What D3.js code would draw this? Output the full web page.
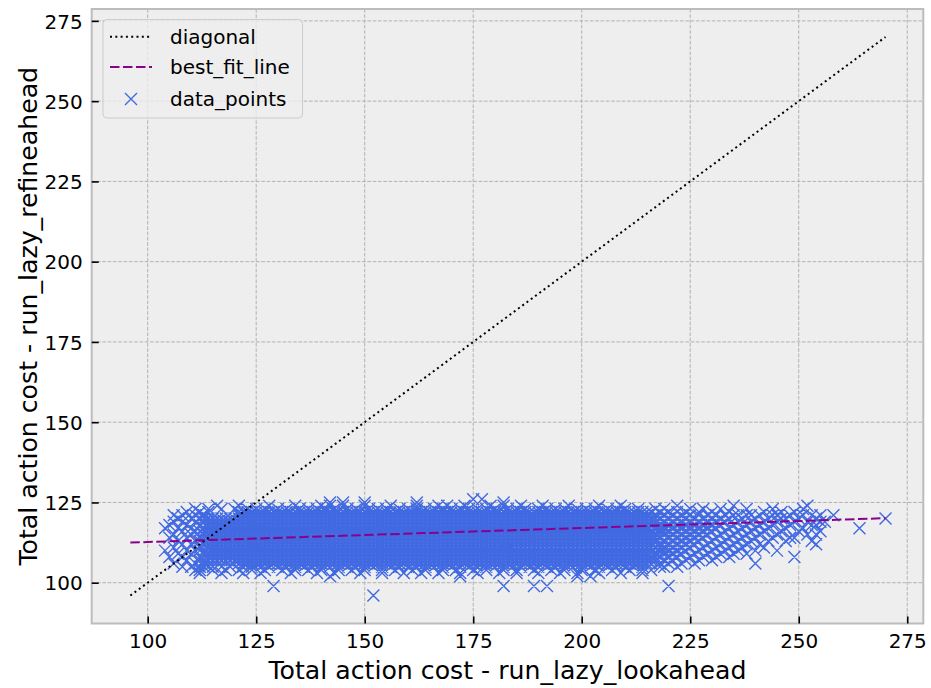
<!DOCTYPE html>
<html>
<head>
<meta charset="utf-8">
<script src="https://cdn.jsdelivr.net/npm/d3@7/dist/d3.min.js"></script>
<style>
  html, body { margin: 0; padding: 0; background: #ffffff; }
  svg { display: block; }
  text { font-family: "DejaVu Sans", sans-serif; fill: #000; }
</style>
</head>
<body>
<svg id="chart" width="931" height="688"></svg>
<script>
// ---------------- data ----------------
const xTicks = [100, 125, 150, 175, 200, 225, 250, 275];
const yTicks = [100, 125, 150, 175, 200, 225, 250, 275];
const xLabel = "Total action cost - run_lazy_lookahead";
const yLabel = "Total action cost - run_lazy_refineahead";
const legendLabels = ["diagonal", "best_fit_line", "data_points"];

const diagonalX = [96, 270];
const diagonalY = [96, 270];
const fitX = [96, 270];
const fitY = [112.5, 120.1];

// dense core of the cloud: at each integer x in [x0,x1], points at every integer y in [lo,hi]
const coreX0 = [115, 121];
const coreX1 = [120, 215];
const coreLo = [107, 106];
const coreHi = [120, 122];

// ragged edges of the core: y value and the x values that reach it
const edgeY = [123, 124, 125, 126, 105, 104, 103, 102];
const edgeX = [
  [114,117,120,123,125,127,130,132,135,137,139,141,143,146,148,151,153,155,158,160,162,164,166,168,170,172,174,176,178,180,183,185,187,190,192,194,196,199,201,203,206,208,210,213],
  [116,121,128,134,140,142,145,150,156,162,167,169,173,179,182,186,191,197,204,209],
  [142,145,150,162,182],
  [175,177],
  [113,115,117,119,122,124,126,128,130,132,134,136,138,140,142,144,146,148,150,152,154,156,158,160,162,164,166,168,170,172,174,176,178,180,182,184,186,188,190,192,194,196,198,200,202,204,206,208,210,212,214],
  [112,115,118,121,124,127,131,134,137,140,144,147,150,154,157,161,164,168,171,175,178,182,185,189,193,196,200,203,207,211,214],
  [112,117,122,126,133,139,143,149,154,159,163,167,172,176,181,185,190,195,199,204,209,214],
  [142,172,199,202]
];

// sparse tails: x value and the y values seen in that column
const tailX = [104,105,106,107,108,109,110,111,112,113,114,
  216,217,218,219,220,221,222,223,224,225,226,227,228,229,230,231,232,233,234,235,236,237,238,239,240,
  241,242,243,244,245,246,247,248,249,250,251,252,253,254,255,256,258,264,270];
const tailY = [
  [110,117],
  [108,114,118],
  [106,111,115,119,121],
  [109,113,117,120],
  [105,108,112,116,119,121],
  [107,110,114,118,122],
  [105,109,112,115,117,120],
  [104,106,110,113,116,119,121,123],
  [105,107,108,110,111,113,114,116,118,120,122],
  [106,107,109,110,112,113,115,116,117,119,120,121],
  [105,107,108,109,111,112,114,115,117,118,119,120,122],
  [104,106,107,108,110,111,112,114,115,116,118,119,120,122],
  [107,108,109,111,113,114,115,117,119,120,121,123],
  [105,106,108,110,111,112,114,116,117,118,120,122],
  [105,107,109,110,111,113,115,116,117,119,121,123],
  [106,108,110,112,114,116,118,120,122],
  [107,109,111,113,115,117,119,121],
  [105,108,110,112,114,116,118,120,122,124],
  [106,109,111,113,115,117,119,121],
  [107,110,112,114,116,118,120,122],
  [108,111,113,115,117,119,121,123],
  [106,109,112,114,116,118,120],
  [107,110,113,115,117,119,121,122],
  [108,111,114,116,118,120,123],
  [109,112,115,117,119,121],
  [107,110,113,116,118,120,122],
  [108,111,114,117,119,121],
  [109,112,115,118,120,123],
  [110,113,116,119,121],
  [108,111,114,117,120,122],
  [109,112,115,118,121,124],
  [110,113,116,119,121],
  [111,114,117,120],
  [109,112,115,118,121,123],
  [113,116,119,121],
  [106,110,114,117,120],
  [112,115,118,121],
  [111,116,119,122],
  [113,117,120],
  [114,118,121,123],
  [110,115,119,121],
  [116,120,122],
  [113,117,120],
  [114,118,121],
  [108,114,119,122],
  [116,120],
  [117,121,123],
  [115,119,124],
  [113,118,121],
  [112,115,118,120],
  [116,119,121],
  [119],
  [121],
  [117],
  [120]
];

// isolated low outliers
const outlierX = [129, 152, 182, 189, 192, 220, 142, 172, 199, 202];
const outlierY = [99, 96, 99, 99, 99, 99, 102, 102, 102, 102];

// ---------------- build point table ----------------
const points = [];
coreX0.forEach((x0, i) => {
  for (let x = x0; x <= coreX1[i]; x++)
    for (let y = coreLo[i]; y <= coreHi[i]; y++) points.push([x, y]);
});
edgeY.forEach((y, i) => edgeX[i].forEach(x => points.push([x, y])));
tailX.forEach((x, i) => tailY[i].forEach(y => points.push([x, y])));
outlierX.forEach((x, i) => points.push([x, outlierY[i]]));

// ---------------- layout ----------------
const svg = d3.select("#chart");
const L = 91.7, R = 923.3, T = 9, B = 623.5;
const x = d3.scaleLinear().domain([87.1, 278.7]).range([L, R]);
const y = d3.scaleLinear().domain([87.3, 278.7]).range([B, T]);

svg.append("rect").attr("x", 0).attr("y", 0).attr("width", 931).attr("height", 688).attr("fill", "#ffffff");
svg.append("rect").attr("x", L).attr("y", T).attr("width", R - L).attr("height", B - T).attr("fill", "#eeeeee");

const defs = svg.append("defs");
defs.append("clipPath").attr("id", "plotclip").append("rect")
  .attr("x", L).attr("y", T).attr("width", R - L).attr("height", B - T);

// grid
const grid = svg.append("g");
grid.selectAll("line.gx").data(xTicks).join("line")
  .attr("x1", d => x(d)).attr("x2", d => x(d)).attr("y1", T).attr("y2", B)
  .attr("stroke", "#b2b2b2").attr("stroke-width", 1).attr("stroke-dasharray", "3.7,1.6");
grid.selectAll("line.gy").data(yTicks).join("line")
  .attr("x1", L).attr("x2", R).attr("y1", d => y(d)).attr("y2", d => y(d))
  .attr("stroke", "#b2b2b2").attr("stroke-width", 1).attr("stroke-dasharray", "3.7,1.6");

// data points
const plot = svg.append("g").attr("clip-path", "url(#plotclip)");
const s = 6;
let pathStr = "";
points.forEach(p => {
  const cx = x(p[0]), cy = y(p[1]);
  pathStr += `M${cx - s},${cy - s}L${cx + s},${cy + s}M${cx - s},${cy + s}L${cx + s},${cy - s}`;
});
plot.append("path").attr("d", pathStr).attr("fill", "none")
  .attr("stroke", "#4169e1").attr("stroke-width", 1.4);

// lines
const line = d3.line().x(d => x(d[0])).y(d => y(d[1]));
plot.append("path").datum(diagonalX.map((v, i) => [v, diagonalY[i]])).attr("d", line)
  .attr("fill", "none").attr("stroke", "#000").attr("stroke-width", 2).attr("stroke-dasharray", "2,3.3");
plot.append("path").datum(fitX.map((v, i) => [v, fitY[i]])).attr("d", line)
  .attr("fill", "none").attr("stroke", "#8b008b").attr("stroke-width", 2).attr("stroke-dasharray", "9.5,3.5");

// spines
svg.append("rect").attr("x", L).attr("y", T).attr("width", R - L).attr("height", B - T)
  .attr("fill", "none").attr("stroke", "#bcbcbc").attr("stroke-width", 2);

// axes (ticks inward)
const xAxis = d3.axisBottom(x).tickValues(xTicks).tickSizeInner(-7).tickSizeOuter(0).tickPadding(17);
const yAxis = d3.axisLeft(y).tickValues(yTicks).tickSizeInner(-7).tickSizeOuter(0).tickPadding(16);
const gx = svg.append("g").attr("transform", `translate(0,${B})`).call(xAxis);
const gy = svg.append("g").attr("transform", `translate(${L},0)`).call(yAxis);
[gx, gy].forEach(g => {
  g.select(".domain").remove();
  g.selectAll(".tick line").attr("stroke", "#000").attr("stroke-width", 1.6);
  g.selectAll(".tick text").attr("font-family", "DejaVu Sans").attr("font-size", 20).attr("fill", "#000");
});
gx.selectAll(".tick text").attr("dy", null).attr("y", 24);
gy.selectAll(".tick text").attr("dy", "0.36em").attr("x", -9);

// axis labels
svg.append("text").attr("x", (L + R) / 2).attr("y", 679).attr("text-anchor", "middle")
  .attr("font-size", 25.2).text(xLabel);
svg.append("text").attr("transform", `translate(37,${(T + B) / 2}) rotate(-90)`)
  .attr("text-anchor", "middle").attr("font-size", 25.2).text(yLabel);

// legend
const lg = svg.append("g");
lg.append("rect").attr("x", 103).attr("y", 19.5).attr("width", 199.5).attr("height", 98.5)
  .attr("rx", 4).attr("fill", "#eeeeee").attr("fill-opacity", 0.8)
  .attr("stroke", "#cccccc").attr("stroke-width", 1);
const rowY = [36.7, 67, 99];
lg.append("line").attr("x1", 110).attr("x2", 152).attr("y1", rowY[0]).attr("y2", rowY[0])
  .attr("stroke", "#000").attr("stroke-width", 2).attr("stroke-dasharray", "2,3.3");
lg.append("line").attr("x1", 110).attr("x2", 152).attr("y1", rowY[1]).attr("y2", rowY[1])
  .attr("stroke", "#8b008b").attr("stroke-width", 2).attr("stroke-dasharray", "9.5,3.5");
lg.append("path").attr("d", `M${131 - s},${rowY[2] - s}L${131 + s},${rowY[2] + s}M${131 - s},${rowY[2] + s}L${131 + s},${rowY[2] - s}`)
  .attr("stroke", "#4169e1").attr("stroke-width", 1.4).attr("fill", "none");
lg.selectAll("text.leg").data(legendLabels).join("text")
  .attr("x", 170).attr("y", (d, i) => rowY[i] + 7.4).attr("font-size", 20).text(d => d);
</script>
</body>
</html>
